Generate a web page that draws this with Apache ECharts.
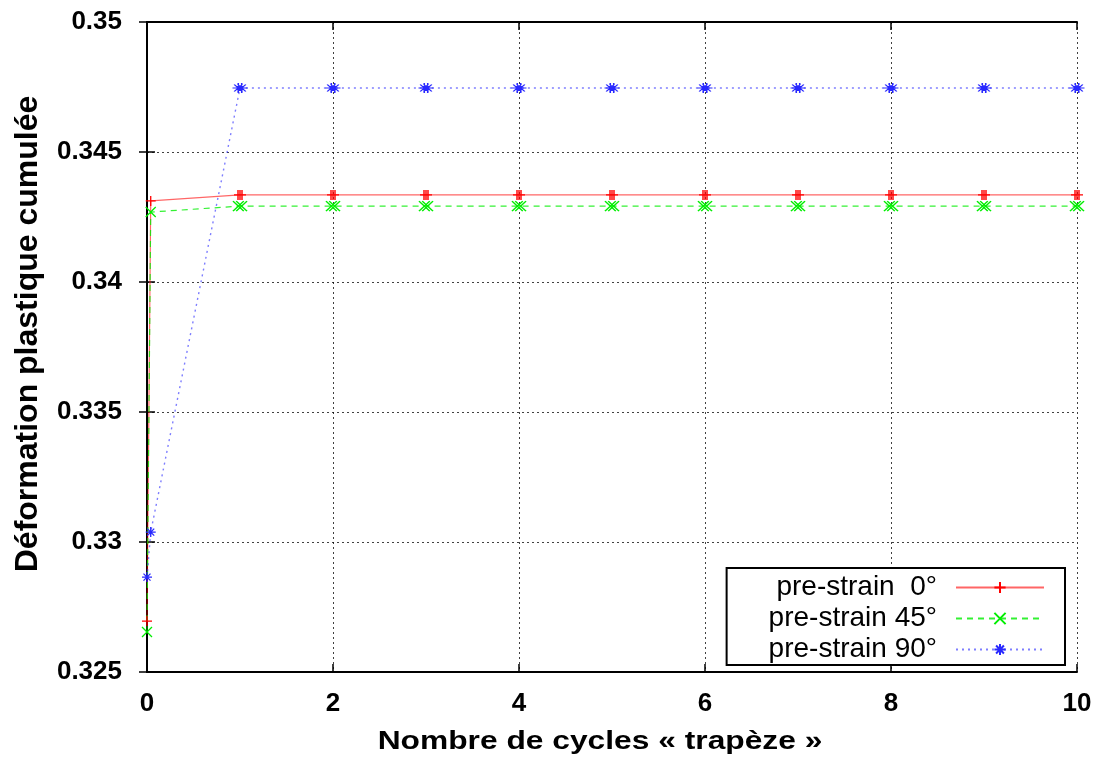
<!DOCTYPE html>
<html>
<head>
<meta charset="utf-8">
<script src="https://cdn.jsdelivr.net/npm/echarts@6/dist/echarts.min.js"></script>
<style>
  html, body { margin: 0; padding: 0; background: #fff; }
  #chart { width: 1095px; height: 758px; }
</style>
</head>
<body>
<div id="chart"></div>
<script>
// abscisses : nombre de cycles
var cycles = [0, 0.04, 1, 2, 3, 4, 5, 6, 7, 8, 9, 10];
// déformation plastique cumulée par pré-déformation
var strain0 = [0.32696, 0.34312, 0.34335, 0.34335, 0.34335, 0.34335, 0.34335, 0.34335, 0.34335, 0.34335, 0.34335, 0.34335];
var strain45 = [0.32654, 0.34269, 0.34292, 0.34292, 0.34292, 0.34292, 0.34292, 0.34292, 0.34292, 0.34292, 0.34292, 0.34292];
var strain90 = [0.32865, 0.33038, 0.34746, 0.34746, 0.34746, 0.34746, 0.34746, 0.34746, 0.34746, 0.34746, 0.34746, 0.34746];
var names = ['pre-strain  0°', 'pre-strain 45°', 'pre-strain 90°'];
var xTitle = 'Nombre de cycles « trapèze »';
var yTitle = 'Déformation plastique cumulée';

// symboles gnuplot (simple) et groupés (plusieurs points superposés par cycle)
var PLUS = 'path://M0,5L10,5M5,0L5,10';
var PLUS3 = 'path://M0,5L12,5M4,0L4,10M6,0L6,10M8,0L8,10';
var CROSS = 'path://M0,0L10,10M10,0L0,10';
var CROSS2 = 'path://M0,0L10,10M10,0L0,10M3,0L13,10M13,0L3,10';
var STAR = 'path://M0,5L10,5M5,0L5,10M1.5,1.5L8.5,8.5M8.5,1.5L1.5,8.5';
var STAR2 = 'path://M0,5L13,5M5,0L5,10M8,0L8,10M1.5,1.5L8.5,8.5M8.5,1.5L1.5,8.5M4.5,1.5L11.5,8.5M11.5,1.5L4.5,8.5';

function pairs(ys, groupSym, groupSize) {
    var out = [];
    for (var i = 0; i < cycles.length; i++) {
        if (cycles[i] >= 1) {
            out.push({ value: [cycles[i], ys[i]], symbol: groupSym, symbolSize: groupSize });
        } else {
            out.push([cycles[i], ys[i]]);
        }
    }
    return out;
}

var fontBold = { fontFamily: 'Liberation Sans', fontWeight: 'bold', color: '#000' };

function mkSeries(name, ys, color, type, symbol, groupSym, groupSize, width, opacity) {
    return {
        name: name,
        type: 'line',
        data: pairs(ys, groupSym, groupSize),
        symbol: symbol,
        symbolSize: 10,
        showAllSymbol: true,
        color: color,
        lineStyle: { color: color, width: width, type: type, opacity: opacity },
        itemStyle: { color: color, borderColor: color, borderWidth: 1.3 },
        emphasis: { disabled: true },
        animation: false
    };
}

var myChart = echarts.init(document.getElementById('chart'));
myChart.setOption({
    animation: false,
    grid: { left: 147, right: 18, top: 22, bottom: 86 },
    legend: {
        orient: 'vertical',
        right: 30,
        top: 568,
        align: 'right',
        padding: [5, 20, 1, 42],
        itemGap: 2,
        itemWidth: 88,
        itemHeight: 14,
        backgroundColor: '#fff',
        borderColor: '#000',
        borderWidth: 2,
        borderRadius: 0,
        textStyle: { fontFamily: 'Liberation Sans', fontSize: 28, lineHeight: 29, color: '#000', padding: [0, 14, 0, 0] },
        data: names
    },
    graphic: [{
        type: 'text',
        x: 600,
        y: 742,
        scaleX: 1.27,
        style: { text: xTitle, fontFamily: 'Liberation Sans', fontWeight: 'bold', fontSize: 25, fill: '#000', align: 'center', verticalAlign: 'middle' }
    }, {
        type: 'text',
        x: 28,
        y: 334,
        rotation: Math.PI / 2,
        style: { text: yTitle, fontFamily: 'Liberation Sans', fontWeight: 'bold', fontSize: 32, fill: '#000', align: 'center', verticalAlign: 'middle' }
    }],
    xAxis: [{
        type: 'value',
        min: 0,
        max: 10,
        interval: 2,
        axisLine: { lineStyle: { color: '#000', width: 2 } },
        axisTick: { inside: true, length: 8, lineStyle: { color: '#000', width: 1.5 } },
        axisLabel: Object.assign({ fontSize: 26, margin: 19 }, fontBold),
        splitLine: { show: true, lineStyle: { color: '#000', type: [2, 3], width: 1, opacity: 0.75 } }
    }, {
        type: 'value',
        position: 'top',
        min: 0,
        max: 10,
        interval: 2,
        axisLine: { lineStyle: { color: '#000', width: 2 } },
        axisTick: { inside: true, length: 8, lineStyle: { color: '#000', width: 1.5 } },
        axisLabel: { show: false },
        splitLine: { show: false }
    }],
    yAxis: [{
        type: 'value',
        min: 0.325,
        max: 0.35,
        interval: 0.005,
        axisLine: { show: true, lineStyle: { color: '#000', width: 2 } },
        axisTick: { show: true, inside: true, length: 8, lineStyle: { color: '#000', width: 1.5 } },
        axisLabel: Object.assign({ fontSize: 26, margin: 25, formatter: function (v) { return String(+v.toFixed(3)); } }, fontBold),
        splitLine: { show: true, lineStyle: { color: '#000', type: [2, 3], width: 1, opacity: 0.75 } }
    }, {
        type: 'value',
        position: 'right',
        min: 0.325,
        max: 0.35,
        interval: 0.005,
        axisLine: { show: true, lineStyle: { color: '#000', width: 2 } },
        axisTick: { show: true, inside: true, length: 8, lineStyle: { color: '#000', width: 1.5 } },
        axisLabel: { show: false },
        splitLine: { show: false }
    }],
    series: [
        mkSeries(names[0], strain0, '#ff0000', 'solid', PLUS, PLUS3, [12, 10], 1.2, 0.6),
        mkSeries(names[1], strain45, '#00ee00', [6, 5], CROSS, CROSS2, [14, 10], 1.2, 0.8),
        mkSeries(names[2], strain90, '#2828ff', [2, 4], STAR, STAR2, [15, 10], 1.4, 0.6)
    ]
});
</script>
</body>
</html>
